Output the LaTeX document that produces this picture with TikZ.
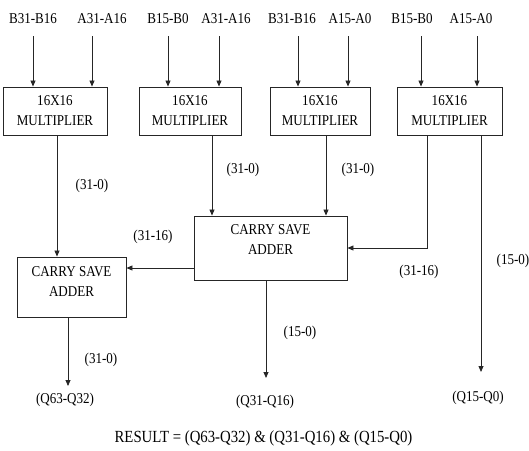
\documentclass[tikz,border=0pt]{standalone}
\usepackage{fontspec}
\setmainfont{Liberation Serif}[FakeStretch=0.87]
\usetikzlibrary{arrows.meta}
\begin{document}
\begin{tikzpicture}[x=1pt,y=-1pt,
  font=\fontsize{15}{20}\selectfont,
  box/.style={draw=black!85,line width=0.9pt,inner sep=0pt},
  arr/.style={draw=black!85,line width=0.8pt,-{Triangle[width=5pt,length=6pt]}},
  lbl/.style={inner sep=0pt}]
\useasboundingbox (0,0) rectangle (529,450);
% multipliers
\node[box,minimum width=104pt,minimum height=48pt] (m1) at (55,111) {};
\node[box,minimum width=102pt,minimum height=48pt] (m2) at (190,111) {};
\node[box,minimum width=100pt,minimum height=48pt] (m3) at (320,111) {};
\node[box,minimum width=105pt,minimum height=48pt] (m4) at (449.5,111) {};
\foreach \n in {m1,m2,m3,m4}{\node[lbl,align=center] (\n t) at (\n.center) {16X16\\MULTIPLIER};}
% carry save adders
\node[box,minimum width=109pt,minimum height=60pt] (csa1) at (71.5,287) {};
\node[box,minimum width=153pt,minimum height=64pt] (csa2) at (270.5,248) {};
\node[lbl,align=center] (csa1t) at (71.5,282) {CARRY SAVE\\ADDER};
\node[lbl,align=center] (csa2t) at (270.5,239.5) {CARRY SAVE\\ADDER};
% input labels
\node[lbl] (l1) at (33,19) {B31-B16};
\node[lbl] (l2) at (102,19) {A31-A16};
\node[lbl] (l3) at (168,19) {B15-B0};
\node[lbl] (l4) at (226,19) {A31-A16};
\node[lbl] (l5) at (292,19) {B31-B16};
\node[lbl] (l6) at (350,19) {A15-A0};
\node[lbl] (l7) at (412,19) {B15-B0};
\node[lbl] (l8) at (471,19) {A15-A0};
% input arrows
\coordinate (i1) at (33,36);  \draw[arr] (i1) -- (i1 |- m1.north);
\coordinate (i2) at (92,36);  \draw[arr] (i2) -- (i2 |- m1.north);
\coordinate (i3) at (168,36); \draw[arr] (i3) -- (i3 |- m2.north);
\coordinate (i4) at (219,36); \draw[arr] (i4) -- (i4 |- m2.north);
\coordinate (i5) at (298,36); \draw[arr] (i5) -- (i5 |- m3.north);
\coordinate (i6) at (348,36); \draw[arr] (i6) -- (i6 |- m3.north);
\coordinate (i7) at (421,36); \draw[arr] (i7) -- (i7 |- m4.north);
\coordinate (i8) at (477,36); \draw[arr] (i8) -- (i8 |- m4.north);
% internal connections
\draw[arr] ([xshift=2pt]m1.south) -- ([xshift=2pt]m1.south |- csa1.north);
\draw[arr] ([xshift=22pt]m2.south) -- ([xshift=22pt]m2.south |- csa2.north);
\draw[arr] ([xshift=6pt]m3.south) -- ([xshift=6pt]m3.south |- csa2.north);
\draw[arr] ([xshift=-22.5pt]m4.south) |- (csa2.east);
\draw[arr] ([yshift=-20pt]csa2.west) -- ([yshift=-20pt]csa2.west -| csa1.east);
% outputs
\node[lbl] (q1) at (65,400) {(Q63-Q32)};
\node[lbl] (q2) at (265,402) {(Q31-Q16)};
\node[lbl] (q3) at (478,398) {(Q15-Q0)};
\coordinate (e1) at (68,386);
\coordinate (e2) at (266,378);
\coordinate (e3) at (481,372);
\draw[arr] (csa1.south -| e1) -- (e1);
\draw[arr] (csa2.south -| e2) -- (e2);
\draw[arr] (m4.south -| e3) -- (e3);
% bit labels
\node[lbl] (b1) at (92,186) {(31-0)};
\node[lbl] (b2) at (243,170) {(31-0)};
\node[lbl] (b3) at (358,170) {(31-0)};
\node[lbl] (b4) at (153,237) {(31-16)};
\node[lbl] (b5) at (419,272) {(31-16)};
\node[lbl] (b6) at (513,261) {(15-0)};
\node[lbl] (b7) at (300,333) {(15-0)};
\node[lbl] (b8) at (101,360) {(31-0)};
\node[lbl,font=\fontsize{17}{20}\selectfont] (res) at (263.5,438) {RESULT = (Q63-Q32) \& (Q31-Q16) \& (Q15-Q0)};
\end{tikzpicture}
\end{document}
